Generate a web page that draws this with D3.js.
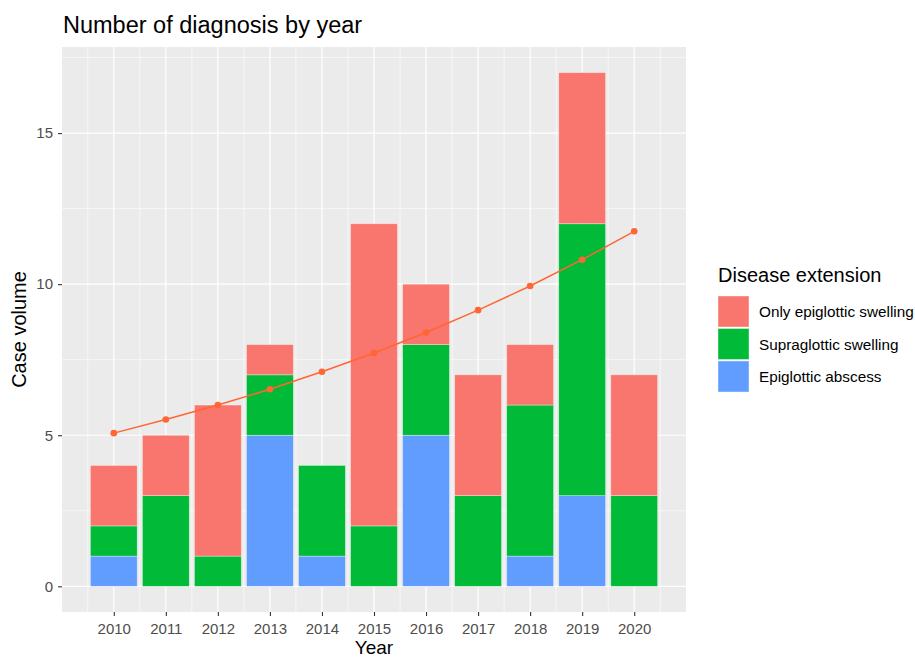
<!DOCTYPE html>
<html><head><meta charset="utf-8">
<script src="https://cdn.jsdelivr.net/npm/d3@7"></script>
<style>body{margin:0;background:#fff}svg{display:block;font-family:"Liberation Sans",Arial,sans-serif}</style>
</head><body>
<script>
const years = [2010,2011,2012,2013,2014,2015,2016,2017,2018,2019,2020];
const abscess = [1,0,0,5,1,0,5,0,1,3,0];
const supraglottic = [1,3,1,2,3,2,3,3,5,9,3];
const onlyEpiglottic = [2,2,5,1,0,10,2,4,2,5,4];
const trend = [5.07,5.52,6.0,6.52,7.10,7.72,8.40,9.14,9.94,10.81,11.75];
const seriesNames = ["Epiglottic abscess","Supraglottic swelling","Only epiglottic swelling"];
const seriesColors = ["#619CFF","#00BA38","#F8766D"];
const yTicks = [0,5,10,15];
const legendOrder = ["Only epiglottic swelling","Supraglottic swelling","Epiglottic abscess"];

const W=915,H=657;
const P={l:62,r:686,t:47,b:612};
const svg=d3.select("body").append("svg").attr("width",W).attr("height",H);

const x=d3.scaleLinear().domain([2009.005,2020.995]).range([P.l,P.r]);
const y=d3.scaleLinear().domain([-0.85,17.85]).range([P.b,P.t]);

svg.append("rect").attr("x",P.l).attr("y",P.t).attr("width",P.r-P.l).attr("height",P.b-P.t).attr("fill","#EBEBEB");
const g=svg.append("g");
const yMinor=[2.5,7.5,12.5,17.5];
g.selectAll(".ym").data(yMinor).enter().append("line").attr("x1",P.l).attr("x2",P.r).attr("y1",d=>y(d)).attr("y2",d=>y(d)).attr("stroke","#fff").attr("stroke-width",0.6);
const xMinor=d3.range(2009.5,2021,1);
g.selectAll(".xm").data(xMinor).enter().append("line").attr("y1",P.t).attr("y2",P.b).attr("x1",d=>x(d)).attr("x2",d=>x(d)).attr("stroke","#fff").attr("stroke-width",0.6);
g.selectAll(".yM").data(yTicks).enter().append("line").attr("x1",P.l).attr("x2",P.r).attr("y1",d=>y(d)).attr("y2",d=>y(d)).attr("stroke","#fff").attr("stroke-width",1.2);
g.selectAll(".xM").data(years).enter().append("line").attr("y1",P.t).attr("y2",P.b).attr("x1",d=>x(d)).attr("x2",d=>x(d)).attr("stroke","#fff").attr("stroke-width",1.2);

const table=years.map((yr,i)=>({year:yr,"Epiglottic abscess":abscess[i],"Supraglottic swelling":supraglottic[i],"Only epiglottic swelling":onlyEpiglottic[i]}));
const stack=d3.stack().keys(seriesNames)(table);
const bw=x(2010.45)-x(2009.55);
stack.forEach((s,si)=>{
  g.selectAll(".b"+si).data(s.filter(d=>d[1]>d[0])).enter().append("rect")
   .attr("x",d=>x(d.data.year)-bw/2).attr("width",bw)
   .attr("y",d=>y(d[1])).attr("height",d=>y(d[0])-y(d[1]))
   .attr("fill",seriesColors[si]).attr("stroke","rgba(255,255,255,0.5)").attr("stroke-width",0.7);
});

const lc="#FF6633";
g.append("path").datum(years.map((yr,i)=>[yr,trend[i]]))
 .attr("d",d3.line().x(d=>x(d[0])).y(d=>y(d[1]))).attr("fill","none").attr("stroke",lc).attr("stroke-width",1.5);
g.selectAll(".pt").data(years.map((yr,i)=>[yr,trend[i]])).enter().append("circle")
 .attr("cx",d=>x(d[0])).attr("cy",d=>y(d[1])).attr("r",3.3).attr("fill",lc);

const ya=svg.append("g").attr("transform",`translate(${P.l},0)`).call(d3.axisLeft(y).tickValues(yTicks).tickSize(4).tickPadding(5));
const xa=svg.append("g").attr("transform",`translate(0,${P.b})`).call(d3.axisBottom(x).tickValues(years).tickFormat(d3.format("d")).tickSize(4).tickPadding(7));
[ya,xa].forEach(a=>{a.select(".domain").remove();a.selectAll("line").attr("stroke","#333").attr("stroke-width",1.1);a.selectAll("text").attr("fill","#4D4D4D").style("font-size","15px").style("font-family","Liberation Sans, Arial, sans-serif");});

svg.append("text").attr("x",63).attr("y",33).text("Number of diagnosis by year").style("font-size","23.5px").attr("fill","#000");
svg.append("text").attr("x",(P.l+P.r)/2).attr("y",654).attr("text-anchor","middle").text("Year").style("font-size","19px");
svg.append("text").attr("transform",`translate(26,${(P.t+P.b)/2}) rotate(-90)`).attr("text-anchor","middle").text("Case volume").style("font-size","20px");

const lg=svg.append("g").attr("transform","translate(718,0)");
lg.append("text").attr("x",0).attr("y",282).text("Disease extension").style("font-size","20px");
legendOrder.forEach((n,i)=>{
  const c=seriesColors[seriesNames.indexOf(n)];
  lg.append("rect").attr("x",0).attr("y",296+i*32.5).attr("width",31).attr("height",31).attr("fill",c).attr("stroke","rgba(255,255,255,0.6)").attr("stroke-width",0.7);
  lg.append("text").attr("x",41).attr("y",296+i*32.5+21).text(n).style("font-size","15.3px");
});
</script>
</body></html>
